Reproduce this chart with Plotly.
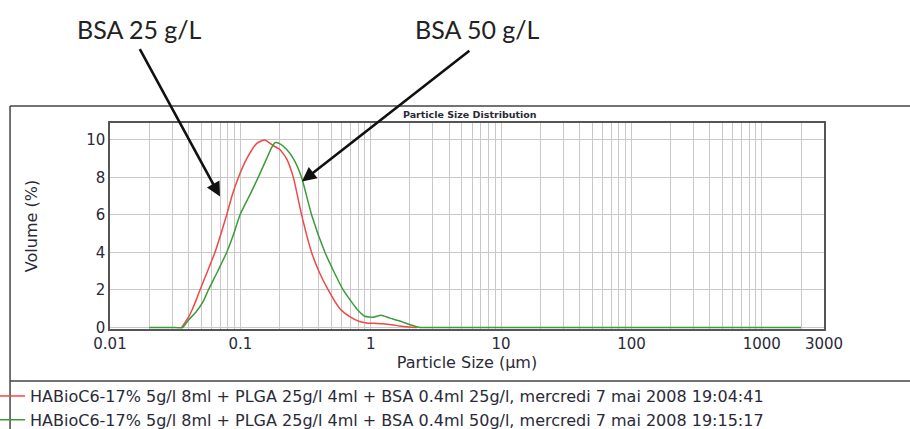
import plotly.graph_objects as go

# Particle size distribution (size in um, volume in %)
size_25 = [0.0355, 0.040, 0.043, 0.046, 0.049, 0.056, 0.0638, 0.071, 0.0785, 0.087,
           0.0966, 0.112, 0.133, 0.154, 0.178, 0.200, 0.226, 0.255, 0.295, 0.352,
           0.400, 0.472, 0.580, 0.700, 0.820, 0.930, 1.05, 1.24, 1.45, 1.67,
           1.95, 2.26]
vol_25 = [0.0, 0.55, 1.0, 1.5, 2.0, 3.0, 4.0, 5.0, 6.0, 7.1,
          8.0, 9.0, 9.8, 10.0, 9.7, 9.5, 9.0, 8.0, 6.0, 4.0,
          3.0, 2.0, 1.0, 0.55, 0.32, 0.24, 0.22, 0.2, 0.15, 0.08,
          0.03, 0.0]

size_50 = [0.020, 0.030, 0.036, 0.040, 0.046, 0.052, 0.0568, 0.067, 0.0785, 0.089, 0.0993,
           0.117, 0.137, 0.159, 0.174, 0.184, 0.200, 0.226, 0.255, 0.295, 0.352,
           0.446, 0.520, 0.615, 0.780, 0.900, 1.05, 1.20, 1.40, 1.67, 2.00,
           2.40, 3.00, 2000]
vol_50 = [0.0, 0.0, 0.0, 0.4, 0.85, 1.4, 2.0, 3.0, 4.0, 5.0, 6.0,
          7.0, 8.0, 9.0, 9.6, 9.85, 9.8, 9.5, 9.0, 8.0, 6.0,
          4.0, 3.0, 2.0, 1.0, 0.6, 0.55, 0.65, 0.5, 0.35, 0.15,
          0.0, 0.0, 0.0]

name_25 = "HABioC6-17% 5g/l 8ml + PLGA 25g/l 4ml + BSA 0.4ml 25g/l, mercredi 7 mai 2008 19:04:41"
name_50 = "HABioC6-17% 5g/l 8ml + PLGA 25g/l 4ml + BSA 0.4ml 50g/l, mercredi 7 mai 2008 19:15:17"

x_ticks = [0.01, 0.1, 1, 10, 100, 1000, 3000]
x_ticktext = ["0.01", "0.1", "1", "10", "100", "1000", "3000"]
y_ticks = [0, 2, 4, 6, 8, 10]

FONT = "DejaVu Sans"
TXT = "#2a2a38"
GRID = "#c8c8c8"

fig = go.Figure()
fig.add_trace(go.Scatter(x=size_25, y=vol_25, mode="lines", name=name_25,
                         line=dict(color="#f04848", width=1.5, shape="spline", smoothing=0.5)))
fig.add_trace(go.Scatter(x=size_50, y=vol_50, mode="lines", name=name_50,
                         line=dict(color="#3a9c3a", width=1.5, shape="spline", smoothing=0.5)))

fig.update_xaxes(type="log", range=[-2, 3.4771], automargin=False,
                 tickvals=x_ticks, ticktext=x_ticktext,
                 showgrid=True, gridcolor=GRID, gridwidth=1,
                 minor=dict(dtick="D1", showgrid=True, gridcolor=GRID, gridwidth=1),
                 showline=True, linecolor="#555555", linewidth=1.5, mirror=True,
                 ticks="", tickfont=dict(family=FONT, size=15, color=TXT),
                 title=dict(text="Particle Size (µm)", standoff=5,
                            font=dict(family=FONT, size=16, color=TXT)),
                 zeroline=False)
fig.update_yaxes(range=[-0.08, 10.9], tickvals=y_ticks, automargin=False,
                 showgrid=True, gridcolor=GRID, gridwidth=1,
                 showline=True, linecolor="#555555", linewidth=1.5, mirror=True,
                 ticks="", tickfont=dict(family=FONT, size=15, color=TXT),
                 title=dict(text="Volume (%)", standoff=45,
                            font=dict(family=FONT, size=16, color=TXT)),
                 zeroline=False)

# Outer frame of the instrument window
frame = dict(type="line", xref="paper", yref="paper", line=dict(color="#444444", width=1.5))
fig.add_shape(x0=-0.140, x1=1.2, y0=1.0825, y1=1.0825, **frame)
fig.add_shape(x0=-0.140, x1=-0.140, y0=1.0825, y1=-0.6, **frame)
fig.add_shape(x0=-0.140, x1=1.2, y0=-0.2524, y1=-0.2524, **frame)

fig.add_annotation(text="<b>Particle Size Distribution</b>", xref="paper", yref="paper",
                   x=0.504, y=1.039, xanchor="center", yanchor="middle", showarrow=False,
                   font=dict(family=FONT, size=9.5, color=TXT))

# Labels and arrows added on top of the screenshot
label_font = dict(family="Lato", size=25, color="#222222")
fig.add_annotation(text="BSA 25 g/L", xref="paper", yref="paper", x=0.042, y=1.455,
                   xanchor="center", yanchor="middle", showarrow=False, font=label_font)
fig.add_annotation(text="BSA 50 g/L", xref="paper", yref="paper", x=0.515, y=1.455,
                   xanchor="center", yanchor="middle", showarrow=False, font=label_font)
fig.add_annotation(x=-1.156, y=6.98, xref="x", yref="y", text="", showarrow=True,
                   ax=-81, ay=-149, arrowhead=2, arrowsize=1.1, arrowwidth=2.6,
                   arrowcolor="#111111")
fig.add_annotation(x=-0.528, y=7.78, xref="x", yref="y", text="", showarrow=True,
                   ax=169, ay=-132, arrowhead=2, arrowsize=1.1, arrowwidth=2.6,
                   arrowcolor="#111111")

fig.update_layout(width=910, height=429,
                  margin=dict(l=110, r=86, t=123, b=100, autoexpand=False),
                  paper_bgcolor="white", plot_bgcolor="white",
                  showlegend=True,
                  legend=dict(x=-0.168, y=-0.243, xanchor="left", yanchor="top",
                              bgcolor="rgba(0,0,0,0)", tracegroupgap=0,
                              font=dict(family=FONT, size=16, color=TXT)))

fig.write_html("out.html", config={"displayModeBar": False},
               post_script="document.body.style.margin='0';")
